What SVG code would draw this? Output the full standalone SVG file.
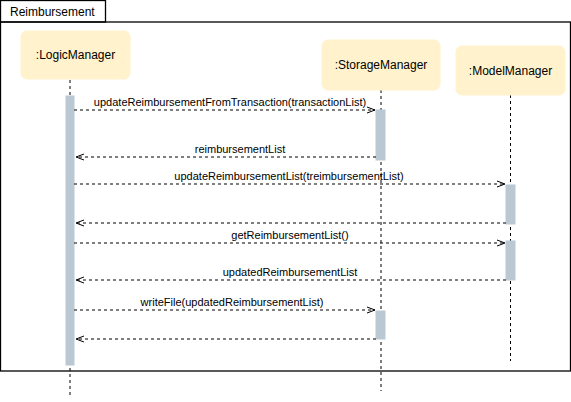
<svg xmlns="http://www.w3.org/2000/svg" width="571" height="402" viewBox="0 0 571 402">
<defs>
<marker id="open" markerWidth="10" markerHeight="10" refX="9" refY="4" orient="auto" markerUnits="userSpaceOnUse">
<path d="M1,1 L9,4 L1,7" fill="none" stroke="#000" stroke-width="1"/>
</marker>
</defs>
<style>
text{font-family:"Liberation Sans",Arial,sans-serif;fill:#000}
.frame{fill:none;stroke:#000;stroke-width:1.3}
.box{fill:#FFF2CC;stroke:#FFF2CC}
.life{stroke:#000;stroke-width:1;stroke-dasharray:3,3;fill:none}
.act{fill:#BAC8D3;stroke:#BAC8D3}
.msg{stroke:#000;stroke-width:1;stroke-dasharray:3,3;fill:none;marker-end:url(#open)}
.lbl{font-size:11px;text-anchor:middle}
.nlbl{font-size:12px;text-anchor:middle}
</style>
<g id="frame">
<rect class="frame" x="0.5" y="22" width="570" height="349"/>
<rect class="frame" x="0.5" y="0.5" width="105" height="21.5"/>
<text x="10" y="16" font-size="12">Reimbursement</text>
</g>
<g id="lifelines">
<line class="life" x1="70" y1="80" x2="70" y2="398"/>
<line class="life" x1="381" y1="90" x2="381" y2="391"/>
<line class="life" x1="510.5" y1="95" x2="510.5" y2="361"/>
</g>
<g id="LogicManager">
<rect class="box" x="21" y="31" width="109" height="48" rx="6"/>
<text class="nlbl" x="75.5" y="59">:LogicManager</text>
<rect class="act" x="66" y="96" width="8" height="269"/>
</g>
<g id="StorageManager">
<rect class="box" x="322" y="40" width="118" height="50" rx="6"/>
<text class="nlbl" x="381" y="69">:StorageManager</text>
<rect class="act" x="376" y="110" width="9" height="50"/>
<rect class="act" x="376" y="311" width="9" height="28"/>
</g>
<g id="ModelManager">
<rect class="box" x="456" y="46" width="109" height="49" rx="6"/>
<text class="nlbl" x="510.5" y="75">:ModelManager</text>
<rect class="act" x="506" y="185" width="9" height="39"/>
<rect class="act" x="506" y="241" width="9" height="39"/>
</g>
<g id="connectors">
<line class="msg" x1="74" y1="110" x2="375" y2="110"/>
<text class="lbl" x="230" y="106">updateReimbursementFromTransaction(transactionList)</text>
<line class="msg" x1="376" y1="157" x2="76" y2="157"/>
<text class="lbl" x="240" y="153">reimbursementList</text>
<line class="msg" x1="74" y1="184" x2="505" y2="184"/>
<text class="lbl" x="289" y="180">updateReimbursementList(treimbursementList)</text>
<line class="msg" x1="506" y1="223" x2="76" y2="223"/>
<line class="msg" x1="74" y1="243" x2="505" y2="243"/>
<text class="lbl" x="290" y="239">getReimbursementList()</text>
<line class="msg" x1="506" y1="280" x2="76" y2="280"/>
<text class="lbl" x="290" y="276">updatedReimbursementList</text>
<line class="msg" x1="74" y1="310" x2="375" y2="310"/>
<text class="lbl" x="232" y="306">writeFile(updatedReimbursementList)</text>
<line class="msg" x1="376" y1="339" x2="76" y2="339"/>
</g>
</svg>
